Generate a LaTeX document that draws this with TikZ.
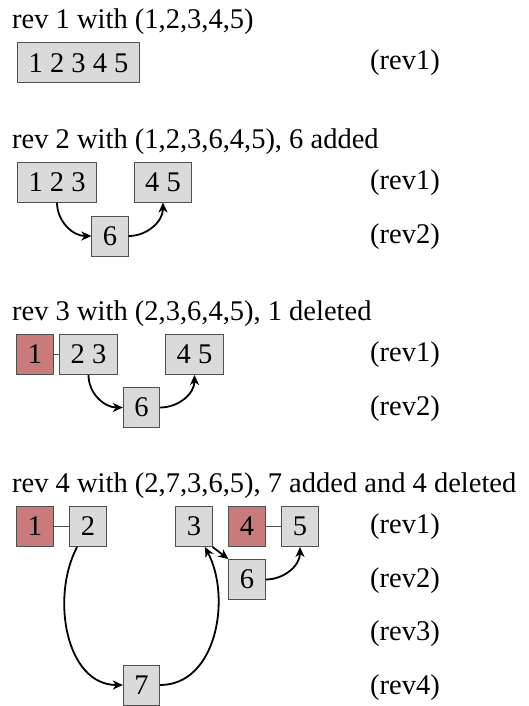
\documentclass[tikz,border=0pt]{standalone}
\usepackage{fontspec}
\setmainfont{Liberation Serif}
\usetikzlibrary{arrows.meta}
\definecolor{boxfill}{RGB}{218,218,218}
\definecolor{boxline}{RGB}{80,80,80}
\definecolor{delfill}{RGB}{201,122,122}
\begin{document}
\begin{tikzpicture}[x=1pt,y=1pt,
  font=\fontsize{28.5}{34}\selectfont,
  box/.style={draw=boxline, fill=boxfill, line width=1pt, minimum width=34pt, minimum height=40pt, inner xsep=11pt, inner ysep=0pt},
  delbox/.style={box, fill=delfill},
  link/.style={draw=boxline, line width=1pt},
  arc/.style={-{Stealth[length=10pt,width=9pt,inset=3pt]}, line width=1.8pt},
  title/.style={anchor=base west, inner sep=0pt},
  revlabel/.style={anchor=base west, inner sep=0pt}]
\useasboundingbox (0,0) rectangle (528,-706);
% rev 1
\node[title] (t1) at (12,-29) {rev 1 with (1,2,3,4,5)};
\node[box] (s1) at (78.5,-63) {1 2 3 4 5};
\node[revlabel] (l11) at (370,-70) {(rev1)};
% rev 2
\node[title] (t2) at (12,-148) {rev 2 with (1,2,3,6,4,5), 6 added};
\node[box] (a123) at (57,-182) {1 2 3};
\node[box] (a45) at (163,-182) {4 5};
\node[box] (a6) at (110,-236) {6};
\node[revlabel] (l21) at (370,-189) {(rev1)};
\node[revlabel] (l22) at (370,-243) {(rev2)};
\draw[arc] (a123) to[out=-90,in=180] (a6);
\draw[arc] (a6) to[out=0,in=-90] (a45);
% rev 3
\node[title] (t3) at (12,-320) {rev 3 with (2,3,6,4,5), 1 deleted};
\node[delbox] (r1) at (35,-354.5) {1};
\node[box] (c23) at (88.5,-354.5) {2 3};
\node[box] (c45) at (194.5,-354.5) {4 5};
\node[box] (c6) at (141.5,-407.5) {6};
\node[revlabel] (l31) at (370,-361.5) {(rev1)};
\node[revlabel] (l32) at (370,-415) {(rev2)};
\draw[link] (r1) -- (c23);
\draw[arc] (c23) to[out=-90,in=180] (c6);
\draw[arc] (c6) to[out=0,in=-90] (c45);
% rev 4
\node[title] (t4) at (12,-492.5) {rev 4 with (2,7,3,6,5), 7 added and 4 deleted};
\node[delbox] (d1) at (35,-526.5) {1};
\node[box] (d2) at (88,-526.5) {2};
\node[box] (d3) at (194,-526.5) {3};
\node[delbox] (d4) at (247,-526.5) {4};
\node[box] (d5) at (300,-526.5) {5};
\node[box] (d6) at (247,-579.5) {6};
\node[box] (d7) at (141.5,-685) {7};
\node[revlabel] (l41) at (370,-533.5) {(rev1)};
\node[revlabel] (l42) at (370,-587) {(rev2)};
\node[revlabel] (l43) at (370,-640.5) {(rev3)};
\node[revlabel] (l44) at (370,-694) {(rev4)};
\draw[link] (d1) -- (d2);
\draw[link] (d4) -- (d5);
\draw[arc] (d2) to[out=-118,in=180] (d7);
\draw[arc] (d7) to[out=0,in=-62] (d3);
\draw[arc] (d3.south east) -- (d6.north west);
\draw[arc] (d6) to[out=0,in=-90] (d5);
\end{tikzpicture}
\end{document}
